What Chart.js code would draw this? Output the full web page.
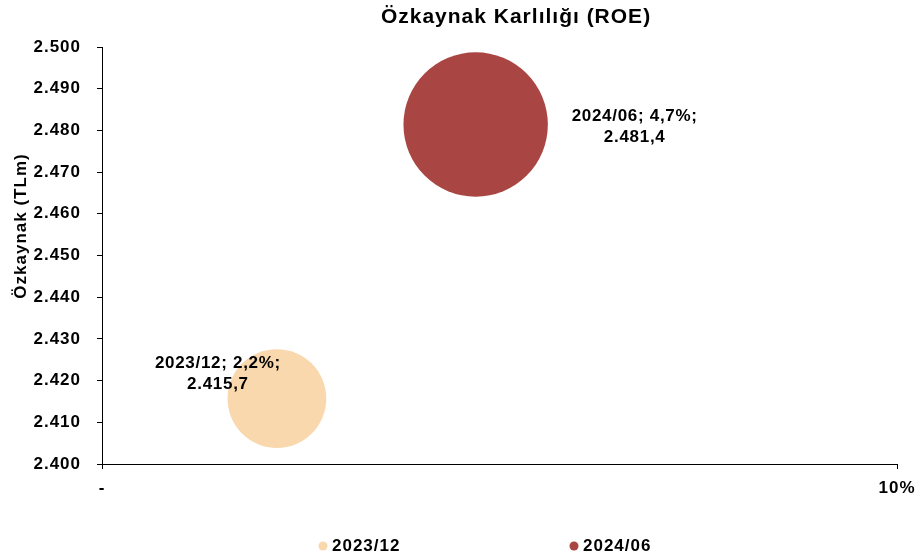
<!DOCTYPE html>
<html>
<head>
<meta charset="utf-8">
<script src="https://cdn.jsdelivr.net/npm/chart.js@4.4.1/dist/chart.umd.min.js"></script>
<style>
  html, body { margin: 0; padding: 0; background: #fff; }
  #wrap { width: 917px; height: 560px; position: relative; }
</style>
</head>
<body>
<div id="wrap"><canvas id="c" width="917" height="560"></canvas></div>
<script>
const categories = ['2023/12', '2024/06'];
const roeValues = [2.2, 4.7];          // % (x axis, bubble size)
const equityValues = [2415.7, 2481.4]; // TLm (y axis)
const colors = ['#F9D8AD', '#A94543'];
const xTicks = [0, 10];
const yMin = 2400, yMax = 2500, yStep = 10;

const chartTitle = 'Özkaynak Karlılığı (ROE)';
const yTitle = 'Özkaynak (TLm)';
const FONT = '"Liberation Sans", Arial, sans-serif';

function fmtThousands(v, dec) {
  const s = v.toFixed(dec);
  const parts = s.split('.');
  const intPart = parts[0].replace(/\B(?=(\d{3})+(?!\d))/g, '.');
  return parts.length > 1 ? intPart + ',' + parts[1] : intPart;
}
function fmtPct(v) { return v.toFixed(1).replace('.', ',') + '%'; }

const datasets = categories.map((c, i) => ({
  label: c,
  data: [{ x: roeValues[i], y: equityValues[i] }],
  backgroundColor: colors[i],
  borderWidth: 0,
  hoverBorderWidth: 0,
  radius: (ctx) => 33.3 * Math.sqrt(ctx.raw.x)
}));

const customDraw = {
  id: 'customDraw',
  beforeDraw(chart) {
    chart.ctx.letterSpacing = '1px';
  },
  afterDatasetsDraw(chart) {
    const ctx = chart.ctx;
    ctx.save();
    ctx.letterSpacing = '0.7px';
    ctx.fillStyle = '#000';
    ctx.font = 'bold 17px ' + FONT;
    ctx.textAlign = 'center';
    ctx.textBaseline = 'middle';
    chart.data.datasets.forEach((ds, i) => {
      const el = chart.getDatasetMeta(i).data[0];
      const l1 = categories[i] + '; ' + fmtPct(roeValues[i]) + ';';
      const l2 = fmtThousands(equityValues[i], 1);
      let x, y1;
      if (i === 0) { x = el.x - 59; y1 = el.y - 35; }
      else { x = el.x + 159; y1 = el.y - 8; }
      ctx.fillText(l1, x, y1);
      ctx.fillText(l2, x, y1 + 21);
    });
    ctx.restore();
  },
  afterDraw(chart) {
    const ctx = chart.ctx;
    ctx.save();
    ctx.fillStyle = '#000';
    // Title
    ctx.letterSpacing = '1px';
    ctx.font = 'bold 21px ' + FONT;
    ctx.textAlign = 'center';
    ctx.textBaseline = 'middle';
    ctx.fillText(chartTitle, 516, 17);
    // Y axis title
    ctx.font = 'bold 17px ' + FONT;
    ctx.translate(21, 226);
    ctx.rotate(-Math.PI / 2);
    ctx.fillText(yTitle, 0, 0);
    ctx.restore();
    // Legend
    ctx.save();
    ctx.letterSpacing = '1px';
    ctx.font = 'bold 17px ' + FONT;
    ctx.textBaseline = 'middle';
    ctx.textAlign = 'left';
    const lx = [323, 574];
    categories.forEach((c, i) => {
      ctx.beginPath();
      ctx.fillStyle = colors[i];
      ctx.arc(lx[i], 546, 4.5, 0, Math.PI * 2);
      ctx.fill();
      ctx.fillStyle = '#000';
      ctx.fillText(c, lx[i] + 9, 546);
    });
    ctx.restore();
  }
};

new Chart(document.getElementById('c'), {
  type: 'bubble',
  data: { datasets },
  options: {
    responsive: false,
    animation: false,
    events: [],
    layout: { autoPadding: false, padding: { left: 0, top: 47, right: 20, bottom: 56 } },
    plugins: {
      legend: { display: false },
      title: { display: false },
      tooltip: { enabled: false }
    },
    scales: {
      x: {
        type: 'linear',
        min: xTicks[0], max: xTicks[xTicks.length - 1],
        afterBuildTicks: (scale) => { scale.ticks = xTicks.map(v => ({ value: v })); },
        afterFit: (scale) => { scale.height = 40; scale.paddingLeft = 0; scale.paddingRight = 0; },
        ticks: {
          color: '#000',
          font: { family: FONT, size: 17, weight: 'bold' },
          padding: 9,
          maxRotation: 0,
          callback: (v) => v === 0 ? '-' : v + '%'
        },
        grid: { display: true, drawOnChartArea: false, drawTicks: true, tickLength: 5, color: '#000', lineWidth: 1 },
        border: { display: true, color: '#000', width: 1 }
      },
      y: {
        type: 'linear',
        min: yMin, max: yMax,
        afterFit: (scale) => { scale.width = 102; scale.paddingTop = 0; scale.paddingBottom = 0; },
        ticks: {
          stepSize: yStep,
          color: '#000',
          font: { family: FONT, size: 17, weight: 'bold' },
          padding: 16,
          callback: (v) => fmtThousands(v, 0)
        },
        grid: { display: true, drawOnChartArea: false, drawTicks: true, tickLength: 5, color: '#000', lineWidth: 1 },
        border: { display: true, color: '#000', width: 1 }
      }
    }
  },
  plugins: [customDraw]
});
</script>
</body>
</html>
